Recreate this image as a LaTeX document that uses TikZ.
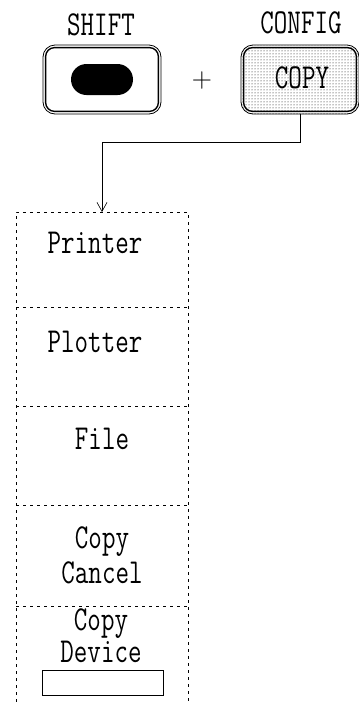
\documentclass[tikz,border=0pt]{standalone}
\usepackage{fontspec}
\usepackage{graphicx}
\usetikzlibrary{arrows.meta,patterns,positioning}
\newcommand{\sq}[1]{\scalebox{0.75}[1]{#1}}

\begin{document}
\begin{tikzpicture}[x=1pt, y=-1pt,
    lbl/.style={font=\ttfamily\fontsize{35}{30}\selectfont, inner sep=0pt, align=center},
    keybox/.style={draw, rounded corners=12pt, line width=0.8pt, minimum width=118pt, minimum height=69pt, inner sep=0pt},
    cellline/.style={dash pattern=on 3pt off 4pt, line width=0.9pt}]
    \useasboundingbox (0,0) rectangle (359,702);

    % keys
    \node[keybox] (shiftkey) at (102,79.5) {};
    \draw[rounded corners=9pt, line width=1.4pt] ([shift={(3,3)}]shiftkey.north west) rectangle ([shift={(-3,-3)}]shiftkey.south east);
    \node[fill, rounded corners=15.5pt, minimum width=62pt, minimum height=31pt] (pill) at (shiftkey) {};
    \node[keybox, pattern=dots] (configkey) at (300,79.5) {};
    \draw[rounded corners=9pt, line width=1.4pt] ([shift={(3,3)}]configkey.north west) rectangle ([shift={(-3,-3)}]configkey.south east);
    \node[lbl] (copykey) at (302,78) {\sq{COPY}};
    \node[font=\fontsize{28}{28}\selectfont] (plus) at (202,80.5) {+};
    \node[lbl] (shiftlbl) at (101,25) {\sq{SHIFT}};
    \node[lbl] (configlbl) at (301,23) {\sq{CONFIG}};

    % column
    \coordinate (coltop) at (102,212);
    \draw[cellline] (16,702) -- (16,212) -- (188,212) -- (188,702);
    \foreach \yy in {307,406,505,606} \draw[cellline] (16,\yy) -- (188,\yy);

    \draw[line width=0.6pt, -{Straight Barb[length=9pt,width=10pt]}] (configkey.south) -- ++(0,28) -| (coltop);

    \node[lbl] (printer) at (95,243) {\sq{Printer}};
    \node[lbl] (plotter) at (95,342) {\sq{Plotter}};
    \node[lbl] (file) at (102,439) {\sq{File}};
    \node[lbl] (cancel) at (102,555) {\sq{Copy}\\[5pt]\sq{Cancel}};
    \node[lbl] (device) at (101,636) {\sq{Copy}\\[2pt]\sq{Device}};
    \node[draw, line width=1pt, minimum width=121pt, minimum height=25pt, inner sep=0pt] (devbox) at (102.5,683) {};
\end{tikzpicture}
\end{document}
